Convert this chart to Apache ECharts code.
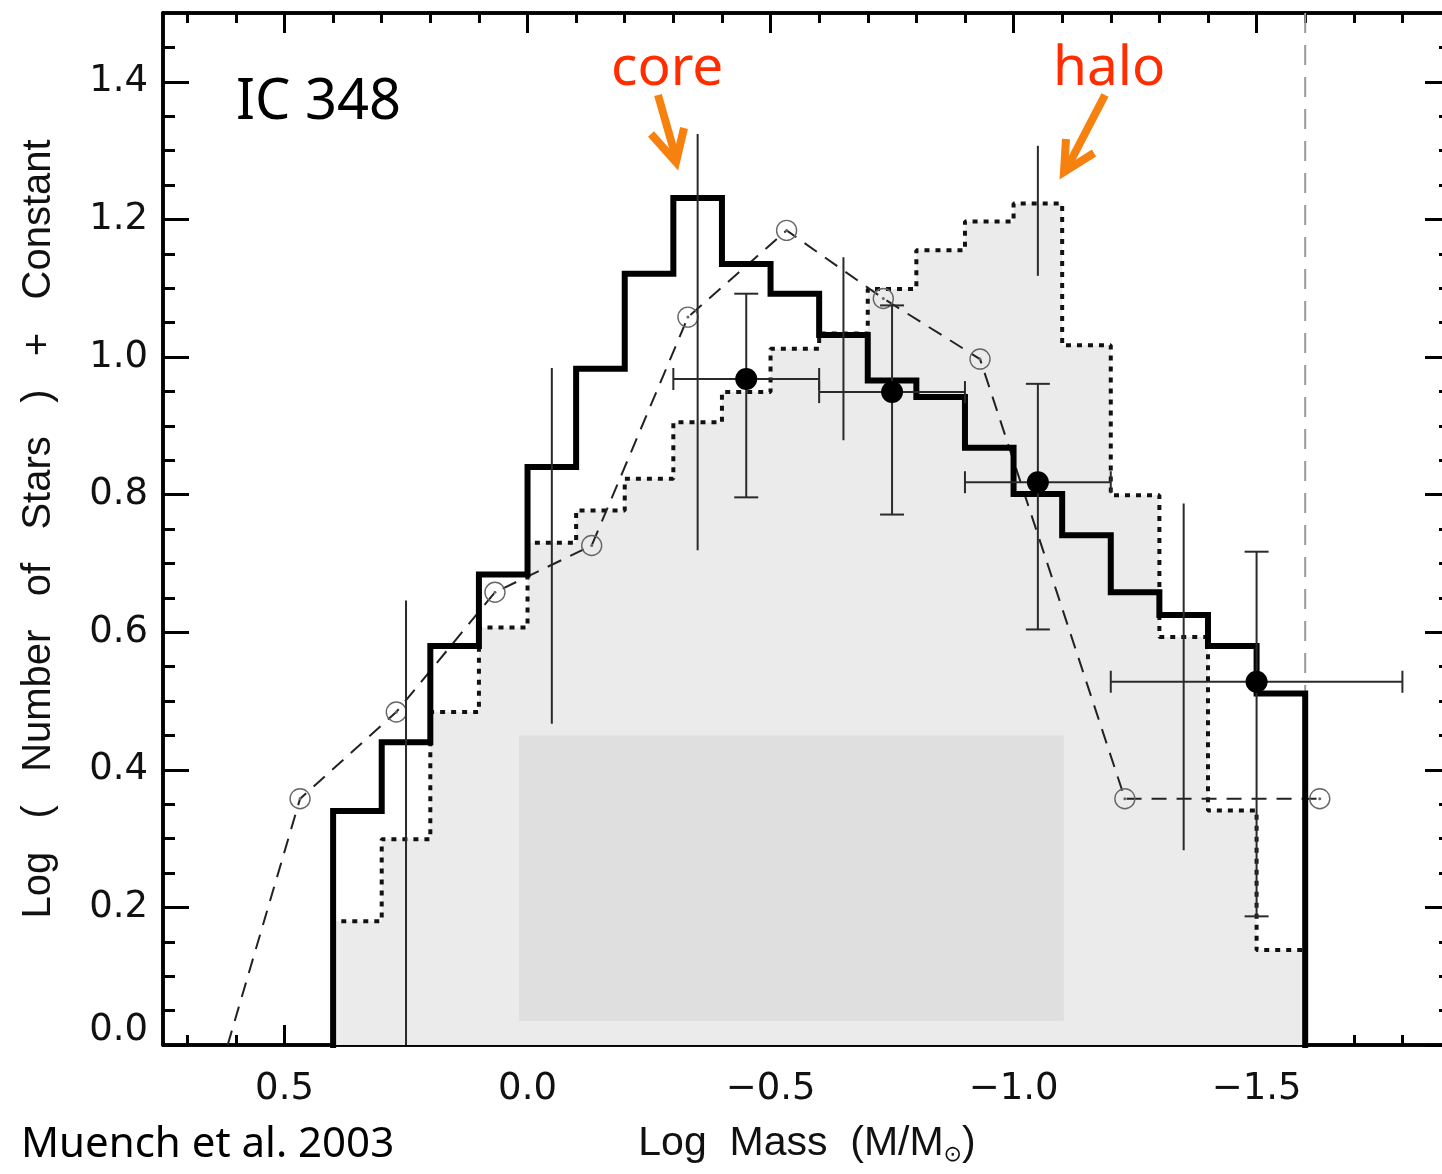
<!DOCTYPE html>
<html>
<head>
<meta charset="utf-8">
<script src="https://cdn.jsdelivr.net/npm/echarts@6.0.0/dist/echarts.min.js"></script>
<style>
html,body{margin:0;padding:0;background:#fff;}
#chart{width:1442px;height:1174px;}
</style>
</head>
<body>
<div id="chart"></div>
<script>
// ---------------- data ----------------
// histogram bin edges in Log Mass (bins of 0.1 dex)
const binEdges = [0.4, 0.3, 0.2, 0.1, 0.0, -0.1, -0.2, -0.3, -0.4, -0.5, -0.6, -0.7, -0.8, -0.9, -1.0, -1.1, -1.2, -1.3, -1.4, -1.5, -1.6];
// core histogram (thick solid)
const coreLogN = [0.34, 0.44, 0.58, 0.684, 0.84, 0.983, 1.121, 1.231, 1.135, 1.092, 1.032, 0.966, 0.942, 0.868, 0.801, 0.741, 0.658, 0.625, 0.58, 0.511];
// halo histogram (dotted, filled)
const haloLogN = [0.18, 0.299, 0.484, 0.607, 0.73, 0.777, 0.823, 0.905, 0.949, 1.012, 1.034, 1.099, 1.155, 1.197, 1.223, 1.017, 0.799, 0.593, 0.341, 0.138];
// dashed comparison IMF (open circles)
const dashMass = [0.617, 0.468, 0.27, 0.067, -0.132, -0.33, -0.533, -0.732, -0.931, -1.229, -1.63];
const dashLogN = [0.0, 0.358, 0.484, 0.658, 0.726, 1.058, 1.184, 1.085, 0.997, 0.358, 0.358];
// binned filled points with error bars
const ptMass   = [-0.45, -0.75, -1.05, -1.5];
const ptLogN   = [0.968, 0.949, 0.818, 0.528];
const ptMassLo = [-0.30, -0.60, -0.90, -1.20];
const ptMassHi = [-0.60, -0.90, -1.20, -1.80];
const ptLogNLo = [0.796, 0.771, 0.604, 0.187];
const ptLogNHi = [1.092, 1.075, 0.961, 0.717];
// vertical (Poisson) error lines on histogram bins
const errMass = [0.25, -0.05, -0.35, -0.65, -1.05, -1.35];
const errLo   = [0.0, 0.467, 0.719, 0.879, 1.118, 0.283];
const errHi   = [0.646, 0.984, 1.324, 1.145, 1.307, 0.787];
// completeness limit
const limitMass = -1.6;
// masked box (data coords: x1, x2, y1, y2)
const maskBox = [0.0173, -1.1035, 0.035, 0.450];
// ticks
const xMajorTicks = [0.5, 0.0, -0.5, -1.0, -1.5];
const xMinorTicks = [0.7, 0.6, 0.4, 0.3, 0.2, 0.1, -0.1, -0.2, -0.3, -0.4, -0.6, -0.7, -0.8, -0.9, -1.1, -1.2, -1.3, -1.4, -1.6, -1.7, -1.8];
const yMajorTicks = [0.0, 0.2, 0.4, 0.6, 0.8, 1.0, 1.2, 1.4];
const yMinorTicks = [0.05, 0.1, 0.15, 0.25, 0.3, 0.35, 0.45, 0.5, 0.55, 0.65, 0.7, 0.75, 0.85, 0.9, 0.95, 1.05, 1.1, 1.15, 1.25, 1.3, 1.35, 1.45];

// ---------------- build ----------------
function stepPoints(edges, vals) {
  const pts = [[edges[0], 0]];
  for (let i = 0; i < vals.length; i++) {
    pts.push([edges[i], vals[i]]);
    pts.push([edges[i + 1], vals[i]]);
  }
  pts.push([edges[edges.length - 1], 0]);
  return pts;
}
const corePts = stepPoints(binEdges, coreLogN);
const haloPts = stepPoints(binEdges, haloLogN);
const dashPts = dashMass.map((m, i) => i === 0 ? {value: [m, dashLogN[i]], symbol: 'none'} : [m, dashLogN[i]]);
const dotPts = dashMass.slice(1).map((m, i) => [m, dashLogN[i + 1]]);
const ptData = ptMass.map((m, i) => [m, ptLogN[i], ptMassLo[i], ptMassHi[i], ptLogNLo[i], ptLogNHi[i]]);
const errData = errMass.map((m, i) => [m, errLo[i], errHi[i]]);

const XMIN = -1.9, XMAX = 0.75, YMIN = 0, YMAX = 1.5;
const tickFont = 'DejaVu Sans';
const fmtX = v => (v < 0 ? '\u2212' : '') + Math.abs(v).toFixed(1);
const fmtY = v => v === 0 ? '{z|0.0}' : v.toFixed(1);

function xAxisDef(pos, ticks, len, withLabels) {
  const a = {
    type: 'value', position: pos, min: XMIN, max: XMAX, inverse: true,
    axisLine: {show: true, onZero: false, lineStyle: {color: '#000', width: 3.5}},
    axisTick: {show: true, inside: true, length: len, customValues: ticks, lineStyle: {color: '#000', width: 3}},
    axisLabel: {show: false},
    splitLine: {show: false}
  };
  if (withLabels) {
    a.axisLabel = {show: true, customValues: ticks, formatter: fmtX, margin: 26,
      color: '#111', fontFamily: tickFont, fontSize: 37};
    a.name = 'Log  Mass  (M/M{s|\u2299})';
    a.nameLocation = 'middle';
    a.nameGap = 77;
    a.nameTextStyle = {fontFamily: 'Liberation Sans', fontSize: 41, color: '#111',
      rich: {s: {fontFamily: 'DejaVu Sans', fontSize: 22, padding: [22, 0, 0, 0], color: '#111'}}};
  }
  return a;
}
function yAxisDef(pos, ticks, len, withLabels) {
  const a = {
    type: 'value', position: pos, min: YMIN, max: YMAX,
    axisLine: {show: true, onZero: false, lineStyle: {color: '#000', width: 3.5}},
    axisTick: {show: true, inside: true, length: len, customValues: ticks, lineStyle: {color: '#000', width: 3}},
    axisLabel: {show: false},
    splitLine: {show: false}
  };
  if (withLabels) {
    a.axisLabel = {show: true, customValues: ticks, formatter: fmtY, margin: 15,
      color: '#111', fontFamily: tickFont, fontSize: 37,
      rich: {z: {fontFamily: tickFont, fontSize: 37, color: '#111', padding: [0, 0, 30, 0]}}};
    a.name = 'Log   (   Number   of   Stars   )   +   Constant';
    a.nameLocation = 'middle';
    a.nameGap = 104;
    a.nameTextStyle = {fontFamily: 'Liberation Sans', fontSize: 40, color: '#111'};
  }
  return a;
}

const chart = echarts.init(document.getElementById('chart'), null, {renderer: 'canvas'});
const option = {
  animation: false,
  backgroundColor: '#fff',
  grid: {left: 163, top: 13, width: 1288, height: 1032, containLabel: false, outerBoundsMode: 'none'},
  xAxis: [
    xAxisDef('bottom', xMajorTicks, 20, true),
    xAxisDef('bottom', xMinorTicks, 10, false),
    xAxisDef('top', xMajorTicks, 20, false),
    xAxisDef('top', xMinorTicks, 10, false)
  ],
  yAxis: [
    yAxisDef('left', yMajorTicks, 26, true),
    yAxisDef('left', yMinorTicks, 12, false),
    yAxisDef('right', yMajorTicks, 26, false),
    yAxisDef('right', yMinorTicks, 12, false)
  ],
  series: [
    { // halo histogram
      type: 'line', z: 2, data: haloPts, showSymbol: false, symbol: 'none',
      lineStyle: {color: '#111', width: 4, type: [5, 6], cap: 'butt'},
      areaStyle: {color: '#ebebeb', opacity: 1}
    },
    { // masked box
      type: 'custom', z: 3, data: [maskBox], clip: true,
      renderItem: (params, api) => {
        const p1 = api.coord([api.value(0), api.value(3)]);
        const p2 = api.coord([api.value(1), api.value(2)]);
        return {type: 'rect', shape: {x: Math.min(p1[0], p2[0]), y: Math.min(p1[1], p2[1]),
          width: Math.abs(p2[0] - p1[0]), height: Math.abs(p2[1] - p1[1])},
          style: {fill: '#dfdfdf'}};
      }
    },
    { // completeness limit
      type: 'line', z: 4, data: [[limitMass, YMAX], [limitMass, YMIN]], symbol: 'none',
      lineStyle: {color: '#9a9a9a', width: 2, type: [20, 12]}
    },
    { // dashed comparison
      type: 'line', z: 5, data: dashPts, symbol: 'circle', symbolSize: 20, showSymbol: true,
      itemStyle: {color: 'rgba(255,255,255,0)', borderColor: '#666', borderWidth: 1.4},
      lineStyle: {color: '#222', width: 2, type: [15, 10]}
    },
    {
      type: 'scatter', z: 5, data: dotPts, symbol: 'circle', symbolSize: 3,
      itemStyle: {color: '#666', opacity: 1}
    },
    { // core histogram
      type: 'line', z: 6, data: corePts, showSymbol: false, symbol: 'none',
      lineStyle: {color: '#000', width: 6, join: 'miter', cap: 'square'}
    },
    { // vertical histogram error lines
      type: 'custom', z: 7, data: errData, clip: true,
      renderItem: (params, api) => {
        const b = api.coord([api.value(0), api.value(1)]);
        const t = api.coord([api.value(0), api.value(2)]);
        return {type: 'line', shape: {x1: b[0], y1: b[1], x2: t[0], y2: t[1]},
          style: {stroke: '#2a2a2a', lineWidth: 2}};
      }
    },
    { // error bars of binned points
      type: 'custom', z: 8, data: ptData, clip: true,
      renderItem: (params, api) => {
        const y = api.value(1), x = api.value(0);
        const l = api.coord([api.value(2), y]);
        const r = api.coord([api.value(3), y]);
        const b = api.coord([x, api.value(4)]);
        const t = api.coord([x, api.value(5)]);
        const st = {stroke: '#2a2a2a', lineWidth: 2};
        const ln = (x1, y1, x2, y2) => ({type: 'line', shape: {x1, y1, x2, y2}, style: st});
        return {type: 'group', children: [
          ln(l[0], l[1], r[0], r[1]),
          ln(l[0], l[1] - 11, l[0], l[1] + 11),
          ln(r[0], r[1] - 11, r[0], r[1] + 11),
          ln(b[0], b[1], t[0], t[1]),
          ln(b[0] - 12, b[1], b[0] + 12, b[1]),
          ln(t[0] - 12, t[1], t[0] + 12, t[1])
        ]};
      }
    },
    { // binned filled points
      type: 'scatter', z: 9, data: ptMass.map((m, i) => [m, ptLogN[i]]),
      symbol: 'circle', symbolSize: 22, itemStyle: {color: '#000', opacity: 1}
    }
  ],
  graphic: [
    {type: 'text', z: 20, style: {text: 'IC 348', x: 236, y: 75,
      font: '56px "Noto Sans"', fill: '#000'}},
    {type: 'text', z: 20, style: {text: 'core', x: 611, y: 42,
      font: '55px "Noto Sans"', fill: '#ff2d00'}},
    {type: 'text', z: 20, style: {text: 'halo', x: 1053, y: 42,
      font: '55px "Noto Sans"', fill: '#ff2d00'}},
    {type: 'text', z: 20, style: {text: 'Muench et al. 2003', x: 21, y: 1124,
      font: '42px "Noto Sans"', fill: '#000'}},
    // arrows
    {type: 'polyline', z: 20, shape: {points: [[658, 95], [676, 158]]},
      style: {stroke: '#f7810f', lineWidth: 8, lineCap: 'butt'}},
    {type: 'polyline', z: 20, shape: {points: [[651, 134], [676, 162], [684, 128]]},
      style: {stroke: '#f7810f', lineWidth: 8, lineJoin: 'miter', lineCap: 'butt', fill: null}},
    {type: 'polyline', z: 20, shape: {points: [[1105, 95], [1067, 168]]},
      style: {stroke: '#f7810f', lineWidth: 8, lineCap: 'butt'}},
    {type: 'polyline', z: 20, shape: {points: [[1066, 139], [1064, 172], [1094, 153]]},
      style: {stroke: '#f7810f', lineWidth: 8, lineJoin: 'miter', lineCap: 'butt', fill: null}}
  ]
};
chart.setOption(option);
</script>
</body>
</html>
